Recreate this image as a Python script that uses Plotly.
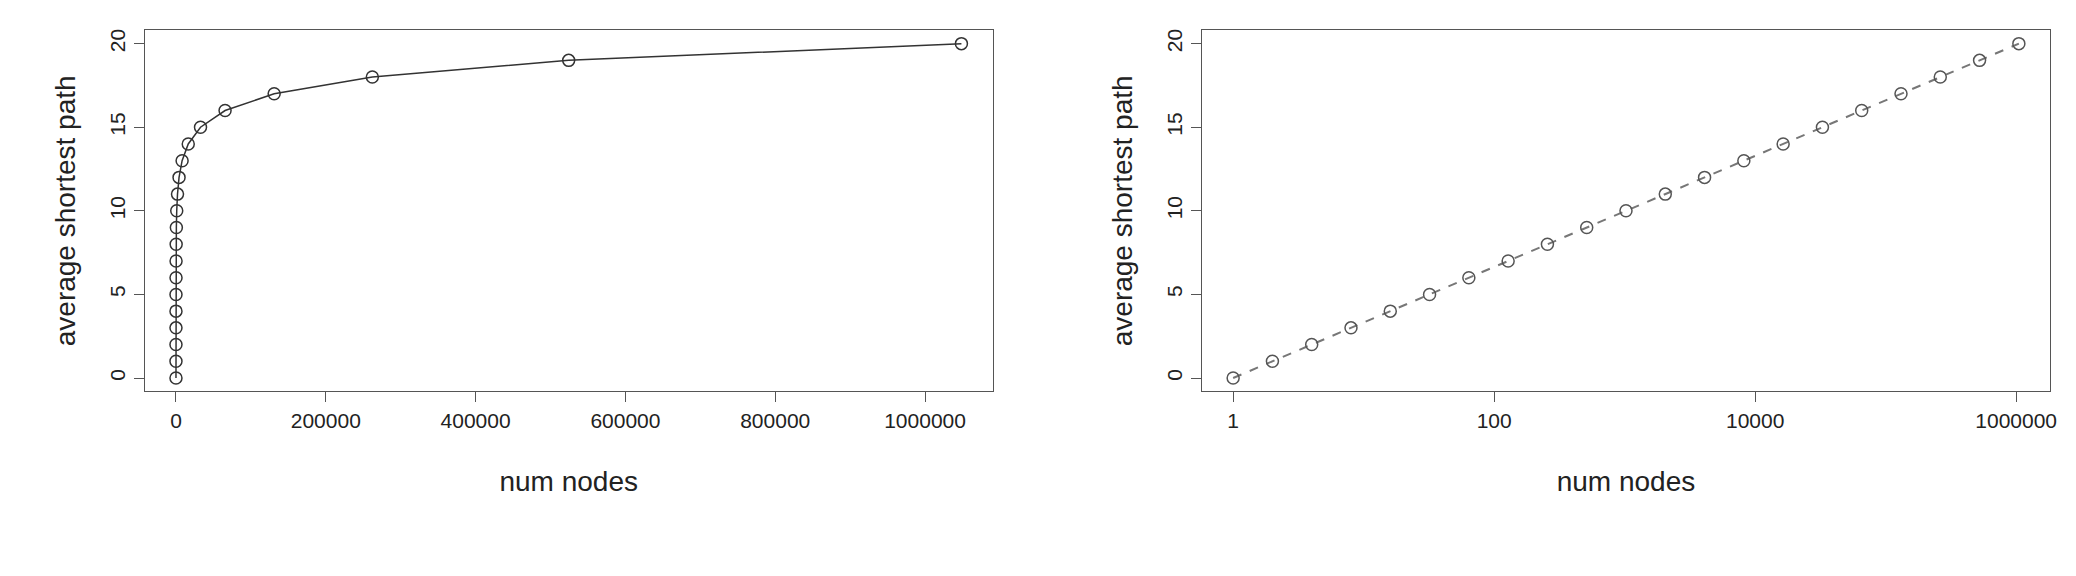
import plotly.graph_objects as go

num_nodes = [1, 2, 4, 8, 16, 32, 64, 128, 256, 512, 1024, 2048, 4096, 8192,
             16384, 32768, 65536, 131072, 262144, 524288, 1048576]
avg_path = [0, 1, 2, 3, 4, 5, 6, 7, 8, 9, 10, 11, 12, 13, 14, 15, 16, 17, 18, 19, 20]

left_ticks = [0, 200000, 400000, 600000, 800000, 1000000]
right_ticks = [1, 100, 10000, 1000000]
y_ticks = [0, 5, 10, 15, 20]

fig = go.Figure()
fig.add_trace(go.Scatter(
    x=num_nodes, y=avg_path, mode="lines+markers",
    line=dict(color="#333333", width=1.5),
    marker=dict(symbol="circle-open", size=12, color="#333333", line=dict(width=1.5)),
    xaxis="x", yaxis="y", showlegend=False))
fig.add_trace(go.Scatter(
    x=num_nodes, y=avg_path, mode="lines+markers",
    line=dict(color="#777777", width=2, dash="dash"),
    marker=dict(symbol="circle-open", size=12, color="#555555", line=dict(width=1.5)),
    xaxis="x2", yaxis="y2", showlegend=False))

axis_common = dict(showline=True, linecolor="#555555", mirror=True, showgrid=False,
                   zeroline=False, ticks="outside", ticklen=10, tickcolor="#555555",
                   tickfont=dict(size=21, color="#222222"))
ylab = dict(text="average shortest path", font=dict(size=28, color="#222222"), standoff=22)
xlab = dict(text="num nodes", font=dict(size=28, color="#222222"), standoff=40)

fig.update_layout(
    width=2076, height=576, margin=dict(l=0, r=0, t=0, b=0),
    plot_bgcolor="white", paper_bgcolor="white",
    font=dict(family="Liberation Sans, Arial, sans-serif"),
    xaxis=dict(domain=[0.066, 0.476], range=[-41942, 1090519], tickvals=left_ticks,
               ticktext=[str(v) for v in left_ticks], title=xlab, **axis_common),
    yaxis=dict(domain=[0.335, 0.963], range=[-0.8, 20.8], tickvals=y_ticks,
               tickangle=-90, title=ylab, anchor="x", **axis_common),
    xaxis2=dict(domain=[0.577, 0.987], type="log", range=[-0.24, 6.26], tickvals=right_ticks,
                ticktext=[str(v) for v in right_ticks], title=xlab, anchor="y2", **axis_common),
    yaxis2=dict(domain=[0.335, 0.963], range=[-0.8, 20.8], tickvals=y_ticks,
                tickangle=-90, title=ylab, anchor="x2", **axis_common),
)

fig.write_html("out.html")
